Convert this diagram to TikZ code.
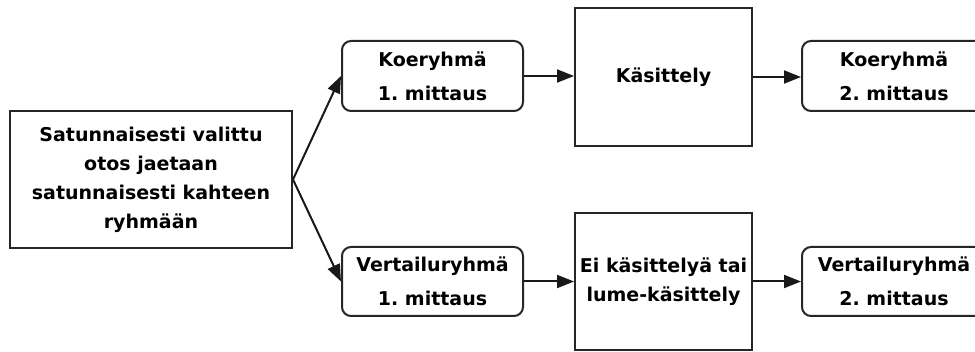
\documentclass[tikz,border=0pt]{standalone}
\usepackage{fontspec}
\setmainfont{DejaVu Sans}
\usetikzlibrary{arrows.meta}
\begin{document}
\frenchspacing
\begin{tikzpicture}[x=1pt,y=-1pt,
  box/.style={draw=black!85,line width=2pt,align=center,inner sep=0pt,
    font=\fontsize{19}{29}\selectfont\bfseries},
  grp/.style={box,rounded corners=9pt,font=\fontsize{19}{34}\selectfont\bfseries},
  arr/.style={-{Triangle[length=17pt,width=13pt]},line width=2pt,black!90}]
\useasboundingbox (0,0) rectangle (975,352);
\node[box,minimum width=282pt,minimum height=137pt] (otos) at (151,179.5) {Satunnaisesti valittu\\otos jaetaan\\satunnaisesti kahteen\\ryhmään};
\node[grp,minimum width=181pt,minimum height=70pt] (koe1) at (432.5,76) {Koeryhmä\\1. mittaus};
\node[grp,minimum width=181pt,minimum height=69pt] (vert1) at (432.5,281.5) {Vertailuryhmä\\1. mittaus};
\node[box,minimum width=177pt,minimum height=138pt] (kas) at (663.5,77) {Käsittely};
\node[box,minimum width=177pt,minimum height=137pt] (eikas) at (663.5,281.5) {Ei käsittelyä tai\\lume-käsittely};
\node[grp,minimum width=184pt,minimum height=70pt] (koe2) at (894,76) {Koeryhmä\\2. mittaus};
\node[grp,minimum width=184pt,minimum height=69pt] (vert2) at (894,281.5) {Vertailuryhmä\\2. mittaus};
\draw[arr] (otos.east) -- (koe1.west);
\draw[arr] (otos.east) -- (vert1.west);
\draw[arr] (koe1.east) -- (koe1.east -| kas.west);
\draw[arr] (kas.east) -- (kas.east -| koe2.west);
\draw[arr] (vert1.east) -- (vert1.east -| eikas.west);
\draw[arr] (eikas.east) -- (eikas.east -| vert2.west);
\end{tikzpicture}
\end{document}
